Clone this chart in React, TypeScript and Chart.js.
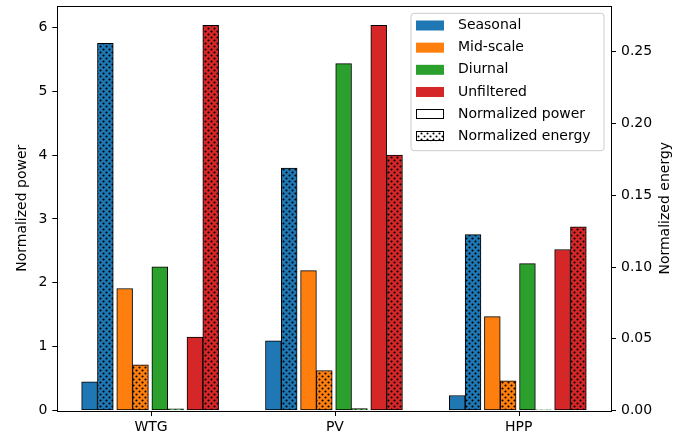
import React, { useEffect, useRef } from "react";
import { Chart, registerables } from "chart.js";

Chart.register(...registerables);

// ---- data ----
const categories = ["WTG", "PV", "HPP"];
const seriesNames = ["Seasonal", "Mid-scale", "Diurnal", "Unfiltered"];
const seriesColors = ["#1f77b4", "#ff7f0e", "#2ca02c", "#d62728"];
const kindLabels = ["Normalized power", "Normalized energy"];

const powerSeasonal = [0.45, 1.09, 0.235];
const powerMidscale = [1.91, 2.19, 1.47];
const powerDiurnal = [2.25, 5.43, 2.3];
const powerUnfiltered = [1.15, 6.032, 2.52];

const energySeasonal = [0.2558, 0.169, 0.1226];
const energyMidscale = [0.0318, 0.0279, 0.0207];
const energyDiurnal = [0.0012, 0.0013, 0.0005];
const energyUnfiltered = [0.2685, 0.178, 0.128];

const categoryTicks = [0, 1, 2];
const powerTicks = [0, 1, 2, 3, 4, 5, 6];
const energyTicks = [0, 0.05, 0.1, 0.15, 0.2, 0.25];

const powerSeries = [powerSeasonal, powerMidscale, powerDiurnal, powerUnfiltered];
const energySeries = [energySeasonal, energyMidscale, energyDiurnal, energyUnfiltered];

// ---- layout constants ----
const W = 684;
const H = 438;
const BAR_W = 0.086;
const PITCH = 0.191;
const SHIFT = -0.005;
const FONT = "DejaVu Sans";

function makeDots(bg: string): CanvasPattern | string {
  const c = document.createElement("canvas");
  c.width = 6;
  c.height = 6;
  const g = c.getContext("2d");
  if (!g) return bg;
  g.fillStyle = bg;
  g.fillRect(0, 0, 6, 6);
  g.fillStyle = "#000";
  g.beginPath();
  g.arc(1.5, 1.5, 1.05, 0, Math.PI * 2);
  g.fill();
  g.beginPath();
  g.arc(4.5, 4.5, 1.05, 0, Math.PI * 2);
  g.fill();
  return g.createPattern(c, "repeat") || bg;
}

export default function App() {
  const ref = useRef<HTMLCanvasElement | null>(null);

  useEffect(() => {
    const canvas = ref.current;
    if (!canvas) return;

    const datasets: any[] = [];
    seriesNames.forEach((name, k) => {
      const pairCenter = (k - 1.5) * PITCH + SHIFT;
      datasets.push({
        label: name + " power",
        data: powerSeries[k].map((v, i) => ({ x: i + pairCenter - BAR_W / 2, y: v })),
        backgroundColor: seriesColors[k],
        borderColor: "#000",
        borderWidth: 1,
        borderSkipped: false,
        grouped: false,
        barPercentage: 1,
        categoryPercentage: 1,
        yAxisID: "y",
      });
      datasets.push({
        label: name + " energy",
        data: energySeries[k].map((v, i) => ({ x: i + pairCenter + BAR_W / 2, y: v })),
        backgroundColor: makeDots(seriesColors[k]),
        borderColor: "#000",
        borderWidth: 1,
        borderSkipped: false,
        grouped: false,
        barPercentage: 1,
        categoryPercentage: 1,
        yAxisID: "y1",
      });
    });

    const framePlugin = {
      id: "frameAndLegend",
      afterDraw(chart: any) {
        const ctx = chart.ctx as CanvasRenderingContext2D;
        const a = chart.chartArea;
        ctx.save();
        // frame
        ctx.strokeStyle = "#000";
        ctx.lineWidth = 1;
        ctx.strokeRect(Math.round(a.left) + 0.5, Math.round(a.top) + 0.5, Math.round(a.right - a.left), Math.round(a.bottom - a.top));

        // x tick marks
        const xs = chart.scales.x;
        ctx.beginPath();
        categoryTicks.forEach((v) => {
          const px = Math.round(xs.getPixelForValue(v)) + 0.5;
          ctx.moveTo(px, Math.round(a.bottom));
          ctx.lineTo(px, Math.round(a.bottom) + 5);
        });
        ctx.stroke();

        // axis titles
        ctx.fillStyle = "#000";
        ctx.font = `14px "${FONT}"`;
        ctx.textAlign = "center";
        ctx.textBaseline = "middle";
        const cy = (a.top + a.bottom) / 2;
        ctx.save();
        ctx.translate(22, cy);
        ctx.rotate(-Math.PI / 2);
        ctx.fillText(kindLabels[0], 0, 0);
        ctx.restore();
        ctx.save();
        ctx.translate(665, cy);
        ctx.rotate(-Math.PI / 2);
        ctx.fillText(kindLabels[1], 0, 0);
        ctx.restore();

        // legend
        const lx = 411, ly = 13.3, lw = 193, lh = 137.4, r = 3;
        ctx.beginPath();
        ctx.moveTo(lx + r, ly);
        ctx.lineTo(lx + lw - r, ly);
        ctx.quadraticCurveTo(lx + lw, ly, lx + lw, ly + r);
        ctx.lineTo(lx + lw, ly + lh - r);
        ctx.quadraticCurveTo(lx + lw, ly + lh, lx + lw - r, ly + lh);
        ctx.lineTo(lx + r, ly + lh);
        ctx.quadraticCurveTo(lx, ly + lh, lx, ly + lh - r);
        ctx.lineTo(lx, ly + r);
        ctx.quadraticCurveTo(lx, ly, lx + r, ly);
        ctx.closePath();
        ctx.fillStyle = "rgba(255,255,255,0.8)";
        ctx.fill();
        ctx.strokeStyle = "#cccccc";
        ctx.lineWidth = 1;
        ctx.stroke();

        const labels = [...seriesNames, ...kindLabels];
        const hx = 416, hw = 28, hh = 10;
        labels.forEach((lab, i) => {
          const yc = 25.5 + i * 22.16;
          if (i < seriesNames.length) {
            ctx.fillStyle = seriesColors[i];
            ctx.fillRect(hx, yc - hh / 2, hw, hh);
          } else {
            ctx.fillStyle = i === seriesNames.length ? "#fff" : (makeDots("#fff") as any);
            ctx.fillRect(hx, yc - hh / 2, hw, hh);
            ctx.strokeStyle = "#000";
            ctx.lineWidth = 1;
            ctx.strokeRect(hx + 0.5, Math.round(yc - hh / 2) + 0.5, hw - 1, hh - 1);
          }
          ctx.fillStyle = "#000";
          ctx.textAlign = "left";
          ctx.textBaseline = "middle";
          ctx.font = `14px "${FONT}"`;
          ctx.fillText(lab, 458, yc);
        });
        ctx.restore();
      },
    };

    const tickFont = { family: FONT, size: 14 };
    const gridOpts = { display: true, offset: false, drawOnChartArea: false, drawTicks: true, tickLength: 5, color: "#000", lineWidth: 1 };
    const chart = new Chart(canvas, {
      type: "bar",
      data: { datasets },
      options: {
        animation: false,
        responsive: false,
        maintainAspectRatio: false,
        layout: { padding: { top: 6, left: 0, right: 0, bottom: 0 } },
        plugins: { legend: { display: false }, tooltip: { enabled: false } },
        scales: {
          x: {
            type: "linear",
            min: -0.51,
            max: 2.502,
            offset: false,
            afterBuildTicks: (s: any) => {
              s.ticks = categoryTicks.map((v) => ({ value: v }));
            },
            ticks: {
              autoSkip: false,
              maxRotation: 0,
              padding: 3,
              color: "#000",
              font: tickFont,
              callback: (v: any) => categories[Math.round(Number(v))] ?? "",
            },
            grid: { ...gridOpts, display: false },
            border: { display: false },
            afterFit: (s: any) => {
              s.height = 27.5;
              s.paddingLeft = 0;
              s.paddingRight = 0;
            },
          },
          y: {
            type: "linear",
            position: "left",
            min: 0,
            max: 6.333,
            afterBuildTicks: (s: any) => {
              s.ticks = powerTicks.map((v) => ({ value: v }));
            },
            ticks: { padding: 5, color: "#000", font: tickFont, callback: (v: any) => String(v) },
            grid: gridOpts,
            border: { display: false },
            afterFit: (s: any) => {
              s.width = 57.3;
              s.paddingTop = 0;
              s.paddingBottom = 0;
            },
          },
          y1: {
            type: "linear",
            position: "right",
            min: 0,
            max: 0.2819,
            afterBuildTicks: (s: any) => {
              s.ticks = energyTicks.map((v) => ({ value: v }));
            },
            ticks: { padding: 5, color: "#000", font: tickFont, callback: (v: any) => Number(v).toFixed(2) },
            grid: gridOpts,
            border: { display: false },
            afterFit: (s: any) => {
              s.width = 73;
              s.paddingTop = 0;
              s.paddingBottom = 0;
            },
          },
        },
      } as any,
      plugins: [framePlugin],
    });

    return () => chart.destroy();
  }, []);

  return (
    <div style={{ position: "fixed", left: 0, top: 0, width: W, height: H, background: "#fff" }}>
      <canvas ref={ref} width={W} height={H} style={{ width: W, height: H, display: "block" }} />
    </div>
  );
}
